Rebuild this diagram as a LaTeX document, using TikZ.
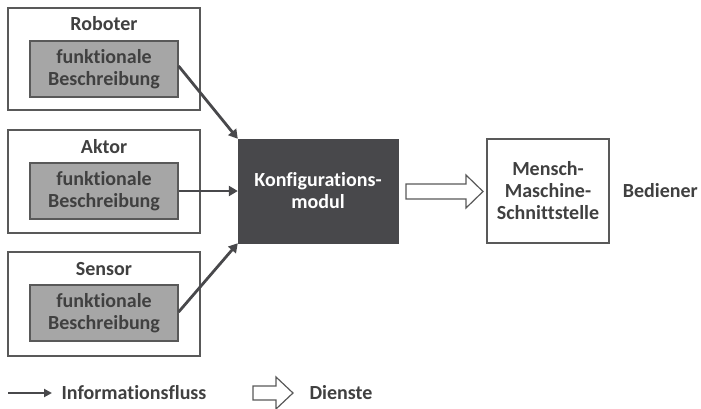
\documentclass[tikz,border=0pt]{standalone}
\usepackage{fontspec}
\setmainfont[Ligatures=NoCommon]{Carlito}
\usetikzlibrary{arrows.meta}
\definecolor{txtgray}{HTML}{404040}
\definecolor{boxline}{HTML}{595959}
\definecolor{darkfill}{HTML}{48484B}
\definecolor{innerfill}{HTML}{A6A6A6}
\tikzset{
  bigfont/.style={font=\fontsize{20}{22}\selectfont\bfseries},
  outerbox/.style={draw=boxline, line width=1.2pt, fill=white},
  innerbox/.style={draw=boxline, line width=1.2pt, fill=innerfill, align=center,
    text=txtgray, bigfont, minimum width=148pt, minimum height=56pt, inner sep=0pt},
  lbl/.style={text=txtgray, bigfont, align=center},
  infoarrow/.style={draw=darkfill, line width=2.8pt, -{Triangle[length=9pt,width=10pt]}},
  servicearrow/.style={draw=boxline, line width=1.2pt, fill=white}
}
\begin{document}
\begin{tikzpicture}[x=1pt,y=-1pt]
\useasboundingbox (0,0) rectangle (701,408);

% component boxes
\draw[outerbox] (8,8) rectangle (200,110);
\node[lbl] (robT) at (104,24) {Roboter};
\node[innerbox] (rob) at (104,69) {funktionale\\Beschreibung};

\draw[outerbox] (8,130) rectangle (200,233);
\node[lbl] (aktT) at (104,147) {Aktor};
\node[innerbox] (akt) at (104,191) {funktionale\\Beschreibung};

\draw[outerbox] (8,252) rectangle (200,356);
\node[lbl] (senT) at (104,269) {Sensor};
\node[innerbox] (sen) at (104,313) {funktionale\\Beschreibung};

% configuration module
\node[fill=darkfill, draw=darkfill, minimum width=160pt, minimum height=104pt, inner sep=0pt,
  text=white, bigfont, align=center] (konf) at (318,191)
  {Konfigurations-\\modul};

% human-machine interface
\node[draw=boxline, line width=1.2pt, minimum width=122pt, minimum height=104pt, inner sep=0pt,
  lbl] (mms) at (548,191) {Mensch-\\Maschine-\\Schnittstelle};
\node[lbl, anchor=east, inner xsep=0pt] (bed) at (698,191) {Bediener};

% information flow
\draw[infoarrow] (rob.east |- 0,66) -- (konf.north west);
\draw[infoarrow] (akt.east) -- (konf.west);
\draw[infoarrow] (sen.east |- 0,312) -- (konf.south west);

% service arrow
\draw[servicearrow] (406,184) -- (466,184) -- (466,175) -- (483,191.5) -- (466,208)
  -- (466,199) -- (406,199) -- cycle;

% legend
\coordinate (lg1) at (8,393);
\coordinate (lg2) at (52,393);
\draw[draw=darkfill, line width=2.2pt, -{Triangle[length=8pt,width=8pt]}] (lg1) -- (lg2);
\node[lbl, anchor=west] (lgInfo) at (58,393) {Informationsfluss};
\draw[servicearrow] (253,386) -- (276,386) -- (276,377) -- (293,393) -- (276,409)
  -- (276,400) -- (253,400) -- cycle;
\node[lbl, anchor=west] (lgDienst) at (306,393) {Dienste};
\end{tikzpicture}
\end{document}
